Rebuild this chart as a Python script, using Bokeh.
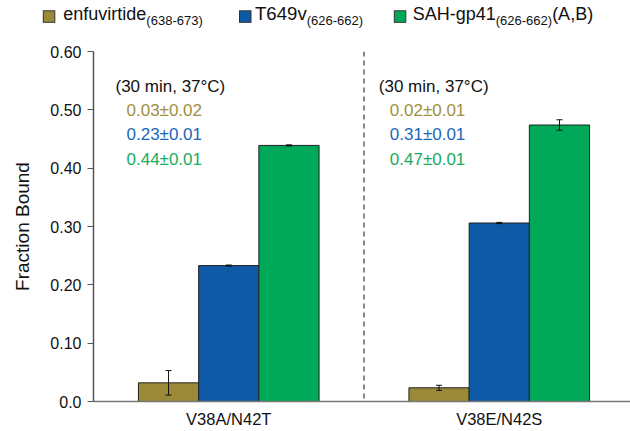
from bokeh.plotting import figure
from bokeh.layouts import column
from bokeh.models import (Range1d, FixedTicker, Span, Whisker, ColumnDataSource, TeeHead, Div)
from bokeh.core.properties import value
from bokeh.embed import file_html
from bokeh.resources import INLINE

# ---------------- data ----------------
groups = ["V38A/N42T", "V38E/N42S"]
series_names = ["enfuvirtide", "T649v", "SAH-gp41"]
series_subs = ["(638-673)", "(626-662)", "(626-662)"]
series_suffix = ["", "", "(A,B)"]

enfuvirtide = [0.032, 0.0235]
enfuvirtide_err = [0.021, 0.0043]
t649v = [0.233, 0.306]
t649v_err = [0.001, 0.001]
sah_gp41 = [0.439, 0.474]
sah_gp41_err = [0.001, 0.009]

condition = "(30 min, 37°C)"
stats_g1 = ["0.03±0.02", "0.23±0.01", "0.44±0.01"]
stats_g2 = ["0.02±0.01", "0.31±0.01", "0.47±0.01"]

y_ticks = [0.0, 0.1, 0.2, 0.3, 0.4, 0.5, 0.6]
y_tick_labels = ["0.0", "0.10", "0.20", "0.30", "0.40", "0.50", "0.60"]

bar_colors = ["#9a8a38", "#0e5aa6", "#00a859"]
text_colors = ["#a0903c", "#1b66b6", "#1aab5f"]

FONT = value("Liberation Sans")

# ---------------- legend strip (HTML/SVG text) ----------------
LEG_H = 30
sq_left = [43.3, 239.5, 394.3]
name_x = [63.3, 255, 412.7]
name_size = [18, 18.6, 18]
parts = []
for i in range(3):
    parts.append(
        f'<rect x="{sq_left[i]}" y="10.8" width="11.5" height="11.5" '
        f'fill="{bar_colors[i]}" stroke="#333333" stroke-width="1"/>')
    suffix = (f'<tspan dy="-4.5" font-size="18">{series_suffix[i]}</tspan>'
              if series_suffix[i] else "")
    parts.append(
        f'<text x="{name_x[i]}" y="20" font-family="Liberation Sans" '
        f'font-size="{name_size[i]}" fill="#111111">{series_names[i]}'
        f'<tspan dy="4.5" font-size="13">{series_subs[i]}</tspan>{suffix}</text>')
legend_html = (f'<svg xmlns="http://www.w3.org/2000/svg" width="630" height="{LEG_H}" '
               f'style="display:block">' + "".join(parts) + '</svg>')
leg = Div(text=legend_html, width=630, height=LEG_H, margin=(0, 0, 0, 0))

# ---------------- main plot ----------------
FRAME_L, FRAME_T, FRAME_B = 93.0, 51.0, 401.0
PX_PER_X = 270.5
PX_PER_Y = (FRAME_B - FRAME_T) / 0.6


def wx(px):
    return 0.5 + (px - FRAME_L) / PX_PER_X


def wy(py):
    return (FRAME_B - py) / PX_PER_Y


BW = 0.2226
p = figure(width=630, height=400, x_range=Range1d(0.5, wx(630)), y_range=Range1d(0, 0.6),
           toolbar_location=None, output_backend="svg",
           min_border_left=93, min_border_right=0, min_border_top=21, min_border_bottom=29,
           outline_line_color=None, margin=(0, 0, 0, 0))
p.grid.visible = False

for i, (vals, errs) in enumerate([(enfuvirtide, enfuvirtide_err),
                                   (t649v, t649v_err),
                                   (sah_gp41, sah_gp41_err)]):
    xs = [g + 1 + (i - 1) * BW for g in range(len(groups))]
    p.vbar(x=xs, top=vals, width=BW, fill_color=bar_colors[i],
           line_color="#222222", line_width=1)
    src = ColumnDataSource(dict(base=xs,
                                upper=[v + e for v, e in zip(vals, errs)],
                                lower=[v - e for v, e in zip(vals, errs)]))
    w = Whisker(source=src, base="base", upper="upper", lower="lower",
                line_color="#111111", line_width=1, level="overlay",
                upper_head=TeeHead(size=6, line_color="#111111", line_width=1),
                lower_head=TeeHead(size=6, line_color="#111111", line_width=1))
    p.add_layout(w)

p.add_layout(Span(location=1.5, dimension="height", line_color="#111111",
                  line_dash="5 4", line_width=1))

for gx, stats in [(wx(115), stats_g1), (wx(378.3), stats_g2)]:
    p.text(x=[gx], y=[wy(85.5)], text=[condition], text_font=FONT, text_font_size="17px",
           text_baseline="middle", text_align="left", text_color="#111111")
    p.text(x=[gx + 11 / PX_PER_X] * 3, y=[wy(110), wy(134), wy(159.3)], text=stats,
           text_font=FONT, text_font_size="17px", text_baseline="middle",
           text_align="left", text_color=text_colors)

# axes
p.xaxis.ticker = FixedTicker(ticks=[1, 2])
p.xaxis.major_label_overrides = {1: groups[0], 2: groups[1]}
p.xaxis.major_tick_line_color = None
p.xaxis.major_tick_out = 0
p.xaxis.minor_tick_line_color = None
p.xaxis.axis_line_color = "#777777"
p.xaxis.axis_line_width = 1.5
p.xaxis.major_label_text_font = "Liberation Sans"
p.xaxis.major_label_text_font_size = "16.5px"
p.xaxis.major_label_text_color = "#111111"
p.xaxis.major_label_standoff = 8

p.yaxis.ticker = FixedTicker(ticks=y_ticks)
p.yaxis.major_label_overrides = {t: l for t, l in zip(y_ticks, y_tick_labels)}
p.yaxis.minor_tick_line_color = None
p.yaxis.major_tick_in = 0
p.yaxis.major_tick_out = 6
p.yaxis.axis_line_color = "#555555"
p.yaxis.axis_line_width = 1.5
p.yaxis.major_tick_line_color = "#555555"
p.yaxis.major_label_text_font = "Liberation Sans"
p.yaxis.major_label_text_font_size = "16px"
p.yaxis.major_label_text_color = "#111111"
p.yaxis.major_label_standoff = 6
p.yaxis.axis_label = "Fraction Bound"
p.yaxis.axis_label_text_font = "Liberation Sans"
p.yaxis.axis_label_text_font_size = "19px"
p.yaxis.axis_label_text_font_style = "normal"
p.yaxis.axis_label_text_color = "#111111"
p.yaxis.axis_label_standoff = 14

layout = column(leg, p, spacing=0)
open("out.html", "w").write(file_html(layout, INLINE))
